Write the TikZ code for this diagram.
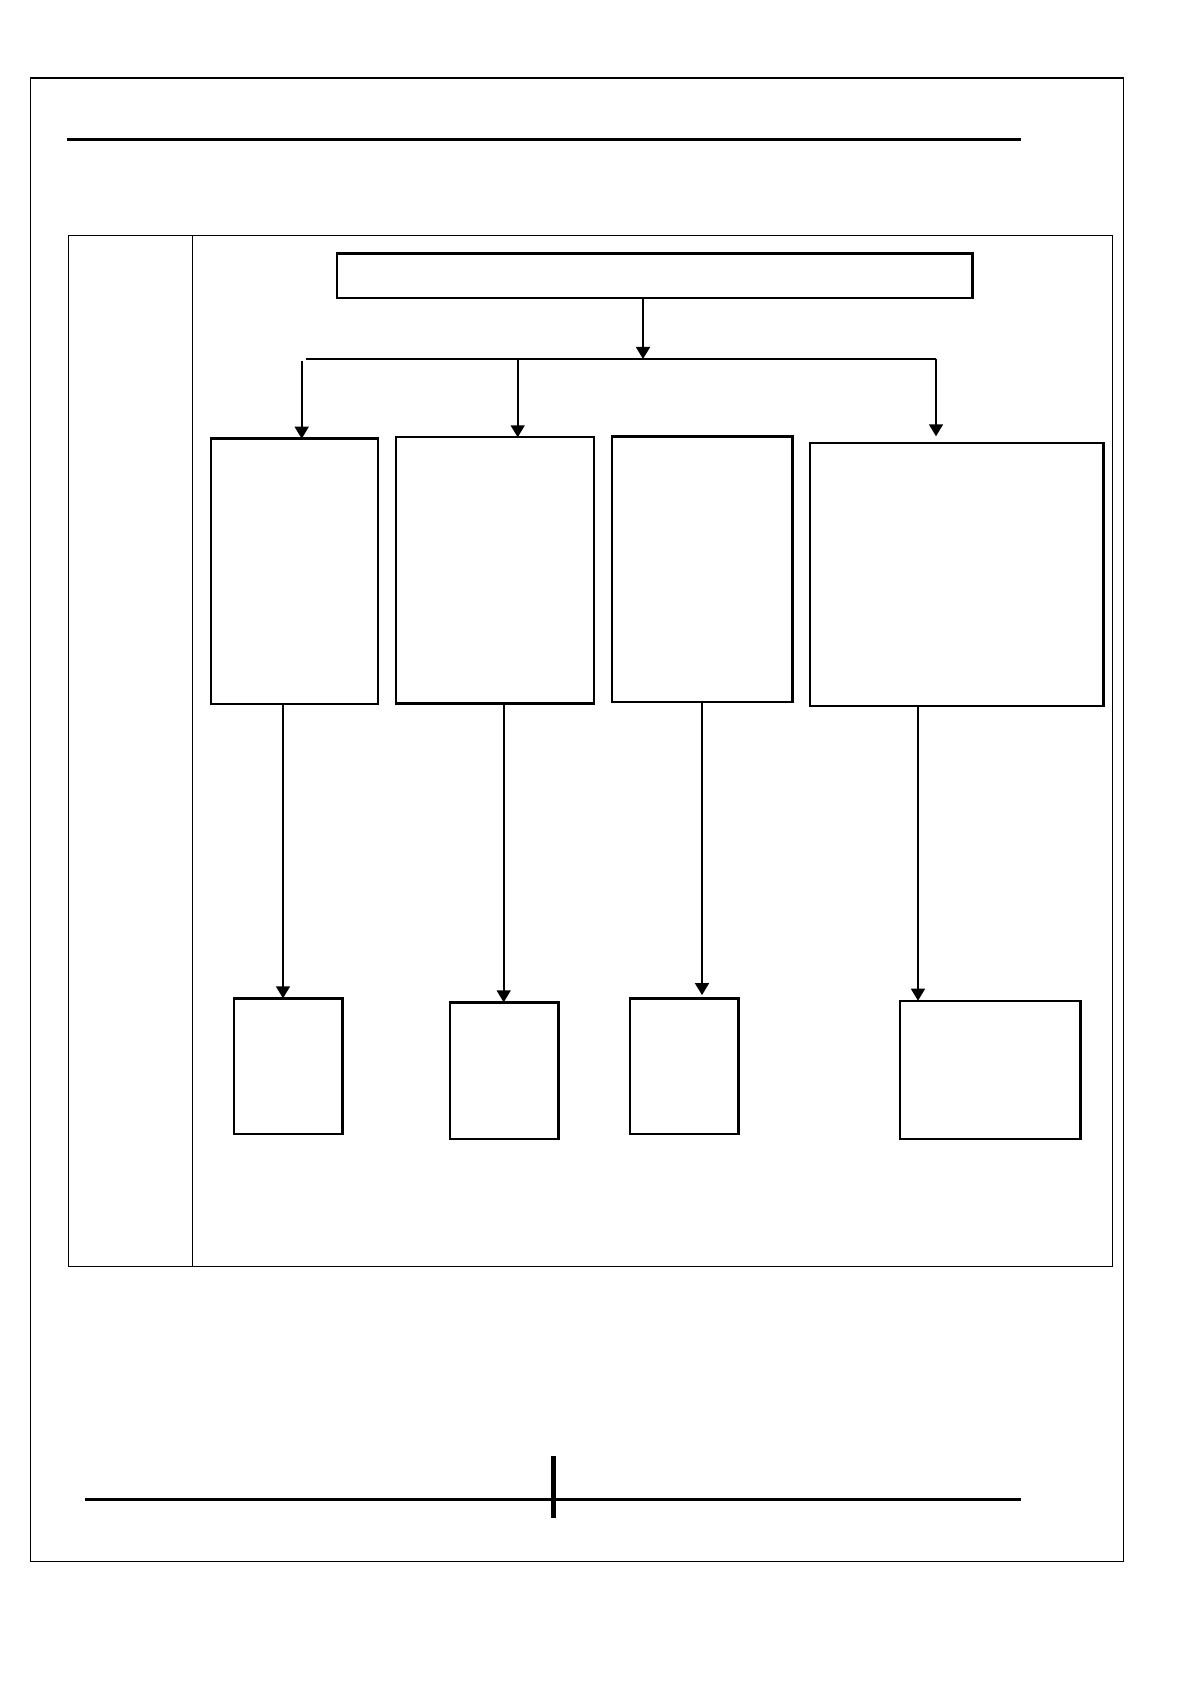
\documentclass[tikz,border=0pt]{standalone}
\usetikzlibrary{arrows.meta}
\begin{document}
\begin{tikzpicture}[x=0.5pt,y=-0.5pt,
  box/.style={draw,line width=1.2pt,rectangle,inner sep=0pt,outer sep=0pt},
  arr/.style={line width=0.8pt,-{Triangle[width=7pt,length=6pt]}},
  bus/.style={line width=1.2pt},
  frame/.style={line width=0.8pt},
  rule/.style={line width=1.5pt}]
\useasboundingbox (0,0) rectangle (1190,1684);
\fill[white] (0,0) rectangle (1190,1684);
% outer frame and rules
\draw[frame] (30.3,78.3) rectangle (1123.4,1561.3);
\draw[rule] (67,140) -- (1021,140);
\draw[rule] (85,1499.3) -- (1021,1499.3);
\draw[line width=2.7pt] (553.4,1456) -- (553.4,1517.7);
% table
\draw[line width=0.65pt] (68.3,235.3) rectangle (1112.7,1266.3);
\draw[line width=0.65pt] (192.3,235.3) -- (192.3,1266.3);
% boxes
\node[box, minimum width=317.8pt, minimum height=22.3pt] (top) at (654.5,276) {};
\node[box, minimum width=83.5pt, minimum height=132.65pt] (b1) at (294.5,571.35) {};
\node[box, minimum width=99.15pt, minimum height=133pt] (b2) at (494.85,570.3) {};
\node[box, minimum width=90.3pt, minimum height=132.5pt] (b3) at (702,569.2) {};
\node[box, minimum width=146.65pt, minimum height=131.2pt] (b4) at (956.65,574.5) {};
\node[box, minimum width=54.3pt, minimum height=67.85pt] (l1) at (288,1066.15) {};
\node[box, minimum width=54.3pt, minimum height=68.35pt] (l2) at (504,1070.65) {};
\node[box, minimum width=54.3pt, minimum height=67.85pt] (l3) at (684,1066.15) {};
\node[box, minimum width=90.3pt, minimum height=69.15pt] (l4) at (990,1069.85) {};
% bus coordinates
\coordinate (busC) at (643,359);
\coordinate (busL) at (301.7,359);
\coordinate (busS) at (305.7,359);
\coordinate (bus2) at (517.7,359);
\coordinate (busR) at (936,359);
\coordinate (c1) at (283,0);
\coordinate (c2) at (503.7,0);
\coordinate (c3) at (702,0);
\coordinate (c4) at (918,0);
% connectors
\draw[arr] (top.south -| busC) -- (busC);
\draw[bus] (busS) -- (busR);
\draw[arr] ([yshift=-1pt]busL) -- (busL |- b1.north);
\draw[arr] (bus2) -- (bus2 |- b2.north);
\draw[arr, shorten >=3.5pt] (busR) -- (busR |- b4.north);
\draw[arr] (b1.south -| c1) -- (c1 |- l1.north);
\draw[arr] (b2.south -| c2) -- (c2 |- l2.north);
\draw[arr, shorten >=1.6pt] (b3.south -| c3) -- (c3 |- l3.north);
\draw[arr] (b4.south -| c4) -- (c4 |- l4.north);
\end{tikzpicture}
\end{document}
